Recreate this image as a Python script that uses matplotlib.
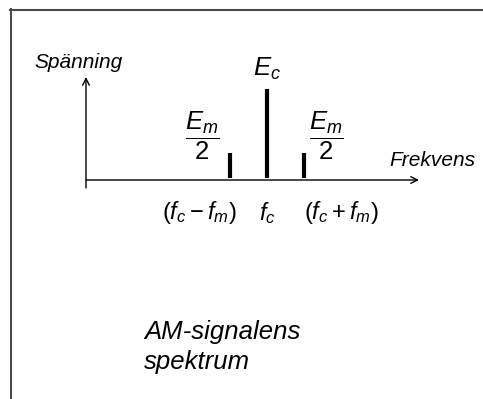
import matplotlib
matplotlib.use("Agg")
import matplotlib.pyplot as plt
from matplotlib.lines import Line2D

plt.rcParams['font.family'] = ['Liberation Sans', 'DejaVu Sans']
plt.rcParams['mathtext.fontset'] = 'custom'
plt.rcParams['mathtext.rm'] = 'Liberation Sans'
plt.rcParams['mathtext.it'] = 'Liberation Sans:italic'
plt.rcParams['mathtext.bf'] = 'Liberation Sans:bold'

# spectrum lines: lower sideband, carrier, upper sideband
freq = [-1, 0, 1]
amp = [0.3, 1.0, 0.3]
freq_labels = [r'$(f_c - f_m)$', r'$f_c$', r'$(f_c + f_m)$']
amp_labels = [r'$\dfrac{E_m}{2}$', r'$E_c$', r'$\dfrac{E_m}{2}$']

W, H = 483, 399
fig = plt.figure(figsize=(W / 100, H / 100), dpi=100)

def fx(px):
    return px / W

def fy(py):
    return 1 - py / H

# axes in data units: 1 freq unit = 37 px, amp 1 = 91 px, origin at carrier/x-axis
x0, y0, sx, sy = 267, 180, 37.0, 91.0
ax = fig.add_axes([0, 0, 1, 1])
ax.set_xlim(-x0 / sx, (W - x0) / sx)
ax.set_ylim(-(H - y0) / sy, y0 / sy)
ax.axis('off')

# frame (top + left only)
fig.add_artist(Line2D([fx(10), fx(W)], [fy(9.5), fy(9.5)], color='#4a4a4a', lw=1.5))
fig.add_artist(Line2D([fx(10.5), fx(10.5)], [fy(9), fy(H)], color='#4a4a4a', lw=1.5))

# axis arrows
xl = (86 - x0) / sx
xr = (419 - x0) / sx
ax.annotate('', xy=(xr, 0), xytext=(xl, 0),
            arrowprops=dict(arrowstyle='->', lw=1.0, color='black', shrinkA=0, shrinkB=0,
                            mutation_scale=12))
ax.annotate('', xy=(xl, (y0 - 77) / sy), xytext=(xl, (y0 - 188) / sy),
            arrowprops=dict(arrowstyle='->', lw=1.0, color='black', shrinkA=0, shrinkB=0,
                            mutation_scale=12))

ax.vlines(freq, 0.02, amp, colors='black', lw=3.0)

# amplitude labels
ax.text(freq[1], amp[1] + 0.22, amp_labels[1], ha='center', va='center', fontsize=18.5)
ax.text(freq[0] - 0.75, 0.49, amp_labels[0], ha='center', va='center', fontsize=18.5)
ax.text(freq[2] + 0.6, 0.49, amp_labels[2], ha='center', va='center', fontsize=18.5)

# frequency labels
ax.text(freq[0] - 0.83, -0.36, freq_labels[0], ha='center', va='center', fontsize=17)
ax.text(freq[1], -0.36, freq_labels[1], ha='center', va='center', fontsize=17)
ax.text(freq[2] + 1.0, -0.36, freq_labels[2], ha='center', va='center', fontsize=17)

fig.text(fx(34), fy(62), 'Spänning', style='italic', fontsize=15, va='center', ha='left')
fig.text(fx(389), fy(160), 'Frekvens', style='italic', fontsize=15, va='center', ha='left')
fig.text(fx(144), fy(332), 'AM-signalens', style='italic', fontsize=18.5, va='center', ha='left')
fig.text(fx(144), fy(362), 'spektrum', style='italic', fontsize=18.5, va='center', ha='left')

fig.savefig('out.png', dpi=100)
